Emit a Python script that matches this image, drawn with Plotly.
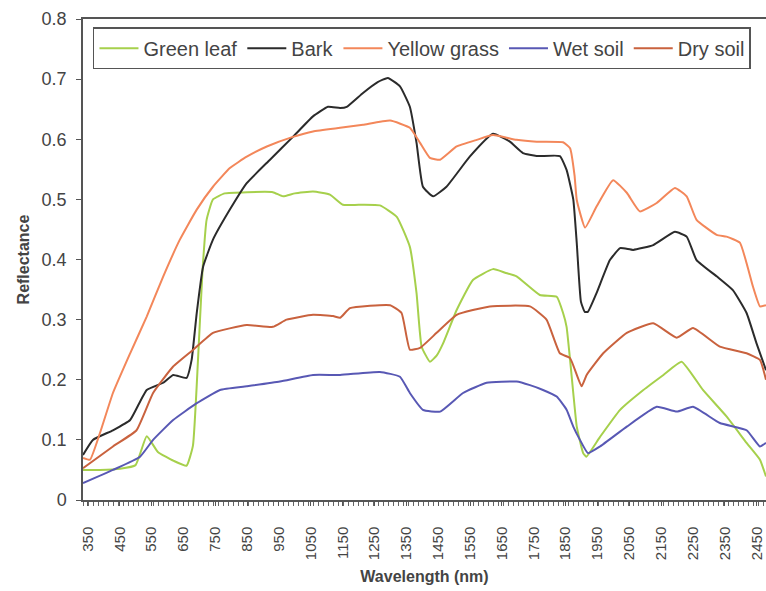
import plotly.graph_objects as go

# ---- data ----
green_wl = [335, 388, 451, 500, 535, 570, 620, 660, 680, 696, 710, 723, 743, 780, 850, 931, 963, 1000, 1057, 1110,
            1151, 1200, 1267, 1320, 1361, 1382, 1398, 1424, 1445, 1465, 1508, 1559, 1622, 1660, 1696, 1769, 1822,
            1842, 1853, 1864, 1874, 1885, 1905, 1915, 1958, 2021, 2094, 2157, 2214, 2281, 2355, 2418, 2460, 2479]
green_val = [0.050, 0.050, 0.052, 0.058, 0.106, 0.080, 0.065, 0.057, 0.090, 0.233, 0.380, 0.466, 0.500, 0.510, 0.512,
             0.512, 0.505, 0.510, 0.513, 0.508, 0.491, 0.491, 0.490, 0.471, 0.421, 0.344, 0.255, 0.230, 0.240, 0.260,
             0.316, 0.366, 0.384, 0.378, 0.372, 0.341, 0.338, 0.311, 0.288, 0.233, 0.178, 0.122, 0.078, 0.072, 0.105,
             0.150, 0.183, 0.208, 0.230, 0.183, 0.139, 0.095, 0.067, 0.039]

bark_wl = [335, 366, 429, 483, 535, 587, 618, 660, 676, 692, 712, 743, 796, 849, 922, 994, 1057, 1104, 1142, 1163,
           1214, 1260, 1292, 1330, 1361, 1382, 1402, 1434, 1476, 1549, 1622, 1675, 1716, 1759, 1832, 1853, 1874,
           1885, 1898, 1910, 1920, 1947, 1989, 2021, 2062, 2125, 2193, 2230, 2261, 2324, 2375, 2418, 2449, 2479]
bark_val = [0.075, 0.100, 0.116, 0.133, 0.183, 0.195, 0.208, 0.203, 0.233, 0.311, 0.388, 0.433, 0.483, 0.527, 0.566,
            0.604, 0.638, 0.654, 0.652, 0.654, 0.677, 0.695, 0.702, 0.688, 0.654, 0.594, 0.521, 0.505, 0.521, 0.571,
            0.609, 0.596, 0.577, 0.572, 0.572, 0.549, 0.500, 0.427, 0.330, 0.313, 0.313, 0.344, 0.399, 0.419, 0.416,
            0.424, 0.446, 0.438, 0.399, 0.372, 0.349, 0.311, 0.261, 0.216]

grass_wl = [335, 357, 388, 429, 483, 535, 587, 639, 692, 743, 796, 849, 912, 994, 1057, 1142, 1214, 1299, 1361, 1393,
            1424, 1456, 1508, 1571, 1622, 1696, 1759, 1842, 1864, 1878, 1885, 1911, 1947, 1999, 2042, 2083, 2136,
            2193, 2230, 2261, 2324, 2355, 2397, 2438, 2460, 2479]
grass_val = [0.070, 0.067, 0.111, 0.178, 0.244, 0.305, 0.372, 0.433, 0.483, 0.521, 0.552, 0.571, 0.588, 0.604, 0.613,
             0.619, 0.624, 0.631, 0.619, 0.594, 0.569, 0.566, 0.588, 0.599, 0.607, 0.599, 0.596, 0.595, 0.585, 0.540,
             0.499, 0.453, 0.488, 0.532, 0.511, 0.480, 0.494, 0.519, 0.505, 0.466, 0.441, 0.438, 0.428, 0.355, 0.322,
             0.324]

wet_wl = [335, 429, 514, 555, 618, 692, 765, 849, 953, 1057, 1142, 1267, 1330, 1361, 1402, 1456, 1528, 1602, 1696,
          1738, 1779, 1822, 1853, 1874, 1895, 1920, 1958, 2042, 2136, 2199, 2250, 2334, 2418, 2460, 2479]
wet_val = [0.028, 0.050, 0.072, 0.100, 0.133, 0.161, 0.183, 0.189, 0.197, 0.208, 0.208, 0.213, 0.205, 0.178, 0.150,
           0.147, 0.178, 0.195, 0.197, 0.191, 0.183, 0.172, 0.150, 0.122, 0.100, 0.078, 0.089, 0.122, 0.155, 0.147,
           0.155, 0.128, 0.116, 0.089, 0.095]

dry_wl = [335, 429, 503, 555, 618, 681, 743, 849, 931, 974, 1057, 1120, 1142, 1173, 1299, 1335, 1361, 1393, 1445,
          1508, 1612, 1738, 1790, 1832, 1864, 1900, 1916, 1968, 2042, 2125, 2199, 2250, 2334, 2418, 2460, 2479]
dry_val = [0.053, 0.089, 0.116, 0.178, 0.222, 0.250, 0.278, 0.291, 0.288, 0.300, 0.308, 0.306, 0.303, 0.319, 0.324,
           0.311, 0.250, 0.253, 0.278, 0.308, 0.322, 0.322, 0.300, 0.244, 0.236, 0.189, 0.208, 0.244, 0.278, 0.294,
           0.270, 0.286, 0.255, 0.244, 0.233, 0.200]

x_ticks = list(range(350, 2451, 100))
y_ticks = [0, 0.1, 0.2, 0.3, 0.4, 0.5, 0.6, 0.7, 0.8]
y_labels = ["0", "0.1", "0.2", "0.3", "0.4", "0.5", "0.6", "0.7", "0.8"]

series = [
    ("Green leaf", green_wl, green_val, "#a6d04c"),
    ("Bark", bark_wl, bark_val, "#2b2b2b"),
    ("Yellow grass", grass_wl, grass_val, "#f3875a"),
    ("Wet soil", wet_wl, wet_val, "#5858b4"),
    ("Dry soil", dry_wl, dry_val, "#c9623e"),
]

fig = go.Figure()
for name, xs, ys, col in series:
    fig.add_trace(go.Scatter(x=xs, y=ys, mode="lines", name=name,
                             line=dict(color=col, width=2, shape="spline", smoothing=0.4)))

font_family = "Liberation Sans, Arial, sans-serif"
fig.update_layout(
    width=766, height=591,
    margin=dict(l=83, r=0, t=19, b=91),
    paper_bgcolor="white", plot_bgcolor="white",
    font=dict(family=font_family, color="#444444"),
    showlegend=True,
    legend=dict(orientation="h", x=0.0146, y=0.983, xanchor="left", yanchor="top",
                bordercolor="#555555", borderwidth=1.5, bgcolor="white",
                font=dict(size=20, color="#444444"), itemwidth=39, tracegroupgap=0),
    xaxis=dict(range=[335, 2479], tickmode="array", tickvals=x_ticks, ticktext=[str(v) for v in x_ticks],
               tickangle=-90, ticks="outside", ticklen=4, tickcolor="#555555",
               tickfont=dict(size=15, color="#444444"), ticklabelstandoff=15,
               showline=True, linecolor="#555555", linewidth=1.5, mirror=True,
               showgrid=False, zeroline=False,
               minor=dict(tick0=335, dtick=15.7, ticks="outside", ticklen=4, tickcolor="#666666", showgrid=False),
               title=dict(text="<b>Wavelength (nm)</b>", font=dict(size=16, color="#444444"), standoff=12)),
    yaxis=dict(range=[0, 0.8], tickmode="array", tickvals=y_ticks, ticktext=y_labels,
               ticks="outside", ticklen=5, tickcolor="#555555",
               tickfont=dict(size=18, color="#444444"), ticklabelstandoff=6,
               showline=True, linecolor="#555555", linewidth=1.5,
               showgrid=False, zeroline=False,
               title=dict(text="<b>Reflectance</b>", font=dict(size=16, color="#444444"), standoff=8)),
)

fig.write_html("out.html")
